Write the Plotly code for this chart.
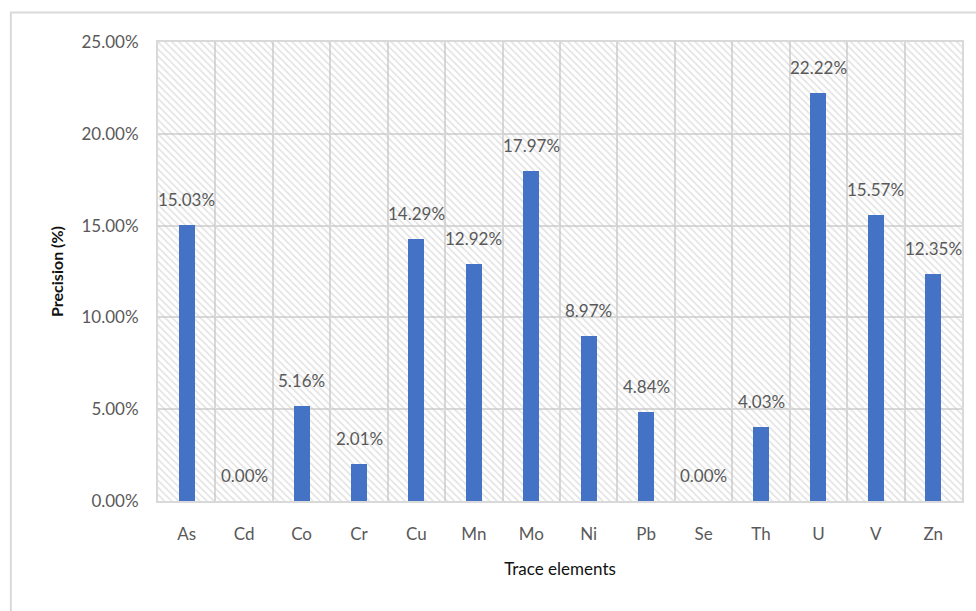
import plotly.graph_objects as go

# Precision of trace element measurements
elements = ["As", "Cd", "Co", "Cr", "Cu", "Mn", "Mo", "Ni", "Pb", "Se", "Th", "U", "V", "Zn"]
precision = [15.03, 0.00, 5.16, 2.01, 14.29, 12.92, 17.97, 8.97, 4.84, 0.00, 4.03, 22.22, 15.57, 12.35]

y_ticks = [0, 5, 10, 15, 20, 25]
y_tick_text = [f"{v:.2f}%" for v in y_ticks]
y_max = 25

FONT = "Lato"
TEXT_GREY = "#595959"
GRID = "#d9d9d9"

fig = go.Figure()

# hatched plot-area background, one cell per category
fig.add_trace(go.Bar(
    x=elements,
    y=[y_max] * len(elements),
    width=1,
    marker=dict(
        color="rgba(0,0,0,0)",
        line=dict(width=0),
        pattern=dict(shape="\\", fgcolor="#c4c4c4", bgcolor="rgba(0,0,0,0)",
                     size=5, solidity=0.3, fillmode="overlay"),
    ),
    hoverinfo="skip",
    showlegend=False,
))

# data bars
fig.add_trace(go.Bar(
    x=elements,
    y=precision,
    width=0.28,
    marker=dict(color="#4472c4", line=dict(width=0)),
    showlegend=False,
))

# value labels above the bars
for el, v in zip(elements, precision):
    fig.add_annotation(
        x=el, y=v, text=f"{v:.2f}%", showarrow=False,
        yanchor="bottom", yshift=13,
        font=dict(family=FONT, size=17, color=TEXT_GREY),
    )

# outer chart border
fig.add_shape(
    type="rect", xref="paper", yref="paper",
    x0=(10.5 - 158) / 806, x1=1.2,
    y0=-0.5, y1=(501 - 12.5) / 459,
    line=dict(color=GRID, width=2), fillcolor="rgba(0,0,0,0)",
    layer="below",
)

fig.update_layout(
    width=976, height=611,
    margin=dict(l=158, r=12, t=42, b=110),
    paper_bgcolor="white", plot_bgcolor="white",
    barmode="overlay",
    bargap=0,
    font=dict(family=FONT, size=17, color=TEXT_GREY),
    xaxis=dict(
        type="category",
        tickson="boundaries",
        showgrid=True, gridcolor=GRID, gridwidth=2,
        showline=True, linecolor=GRID, linewidth=2, mirror=True,
        ticks="", ticklabelstandoff=17,
        tickfont=dict(family=FONT, size=17, color=TEXT_GREY),
        title=dict(text="Trace elements", standoff=20,
                   font=dict(family=FONT, size=17, color="#111111")),
        range=[-0.5, len(elements) - 0.5],
    ),
    yaxis=dict(
        range=[0, y_max],
        tickvals=y_ticks, ticktext=y_tick_text,
        showgrid=True, gridcolor=GRID, gridwidth=2,
        showline=True, linecolor=GRID, linewidth=2, mirror=True,
        zeroline=False,
        ticks="", ticklabelstandoff=14,
        tickfont=dict(family=FONT, size=17, color=TEXT_GREY),
        title=dict(text="<b>Precision (%)</b>", standoff=14,
                   font=dict(family=FONT, size=16, color="#111111")),
    ),
)

fig.write_html("out.html")
